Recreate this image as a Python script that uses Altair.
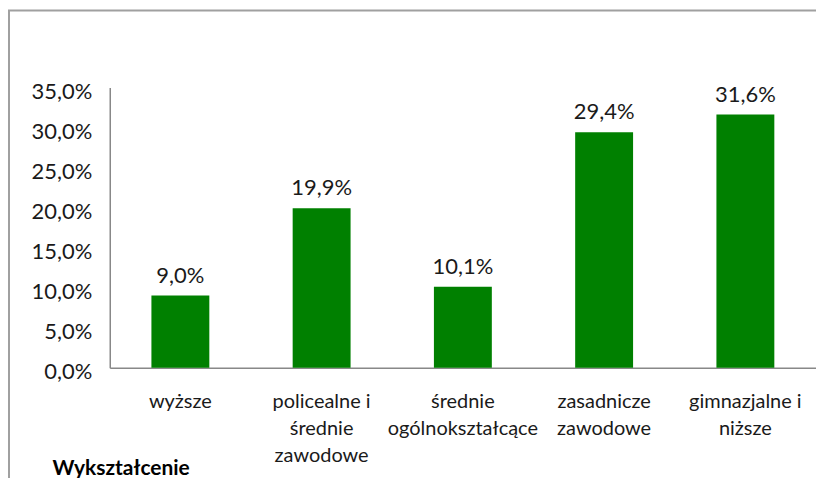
import altair as alt
import pandas as pd

categories = ["wyższe", "policealne i|średnie|zawodowe", "średnie|ogólnokształcące",
              "zasadnicze|zawodowe", "gimnazjalne i|niższe"]
values = [9.0, 19.9, 10.1, 29.4, 31.6]
y_ticks = [0, 5, 10, 15, 20, 25, 30, 35]

df = pd.DataFrame({"cat": categories, "val": values})
FONT = "Lato"

base = alt.Chart(df).encode(
    x=alt.X("cat:N", sort=None,
            scale=alt.Scale(paddingInner=0.59, paddingOuter=0.295),
            axis=alt.Axis(title="Wykształcenie", labelAngle=0,
                          labelExpr="split(datum.label, '|')",
                          labelFont=FONT, labelFontSize=20, labelColor="#1a1a1a",
                          labelLineHeight=27, labelPadding=34, labelBaseline="middle",
                          ticks=False, domainColor="#888888", domainWidth=1.5,
                          titleFont=FONT, titleFontSize=21, titleFontWeight="bold",
                          titleColor="#000000", titleAnchor="start", titleAlign="left",
                          titleX=-58, titleY=101, titleBaseline="middle")),
    y=alt.Y("val:Q", scale=alt.Scale(domain=[0, 35], nice=False),
            axis=alt.Axis(title=None, values=y_ticks, grid=False, ticks=False,
                          labelExpr="replace(format(datum.value, '.1f'), '.', ',') + '%'",
                          labelFont=FONT, labelFontSize=22, labelColor="#1a1a1a",
                          labelPadding=18, labelOffset=4,
                          domainColor="#888888", domainWidth=1.5)),
)

bars = base.mark_bar(color="#008000")
labels = base.transform_calculate(
    lab="replace(format(datum.val, '.1f'), '.', ',') + '%'"
).mark_text(baseline="alphabetic", dy=-13, font=FONT, fontSize=22, color="#1a1a1a").encode(
    text="lab:N")

border = alt.Chart(pd.DataFrame({"a": [0]})).mark_rect(
    fillOpacity=0, stroke="#a0a0a0", strokeWidth=2
).encode(x=alt.value(-101), y=alt.value(-77), x2=alt.value(1000), y2=alt.value(1000))

chart = alt.layer(border, bars, labels).properties(
    width=708, height=281,
    background="white",
    autosize=alt.AutoSizeParams(type="none"),
    padding={"left": 102, "top": 79, "right": 0, "bottom": 110},
).configure_view(stroke=None)

chart.save("out.html", embed_options={"renderer": "svg", "actions": False})
